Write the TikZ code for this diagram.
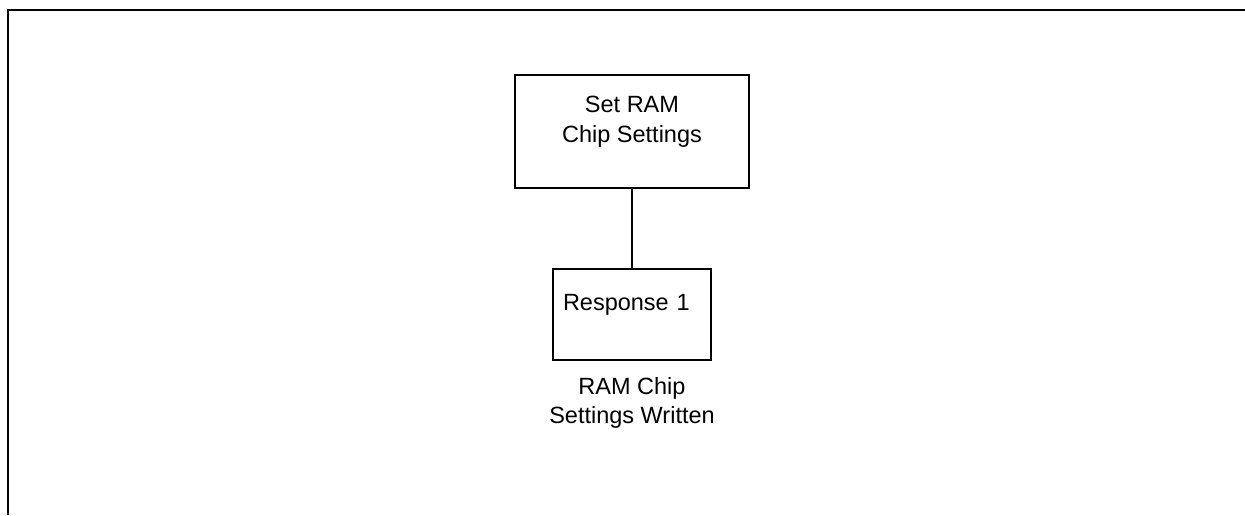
\documentclass[tikz,border=0pt]{standalone}
\usepackage{fontspec}
\setmainfont{Liberation Sans}
\usetikzlibrary{positioning}

\tikzset{
  stepbox/.style={draw, line width=1.7pt, align=center, font=\fontsize{23.5}{30}\selectfont, inner sep=0pt},
  caption/.style={align=center, font=\fontsize{23.5}{29}\selectfont, inner sep=0pt}
}

\begin{document}
\begin{tikzpicture}[x=1pt,y=-1pt]
        \useasboundingbox (0,0) rectangle (1245,515);

        % Frame
        \draw[line width=2.2pt] (8,515) -- (8,10) -- (1245,10);

        % Command
        \node[stepbox, minimum width=234pt, minimum height=113pt, text depth=24pt] (set) at (632,131.5) {Set RAM\\Chip Settings};

        % Response
        \node[stepbox, minimum width=158pt, minimum height=91pt, below = 79pt of set, text depth=24pt, text width=148pt, align=left] (rsp) {\hspace{5pt}Response 1};
        \draw[line width=1.7pt] (set) -- (rsp);

        \node[caption, below = 17pt of rsp] (written) {RAM Chip\\Settings Written};
    \end{tikzpicture}
\end{document}
